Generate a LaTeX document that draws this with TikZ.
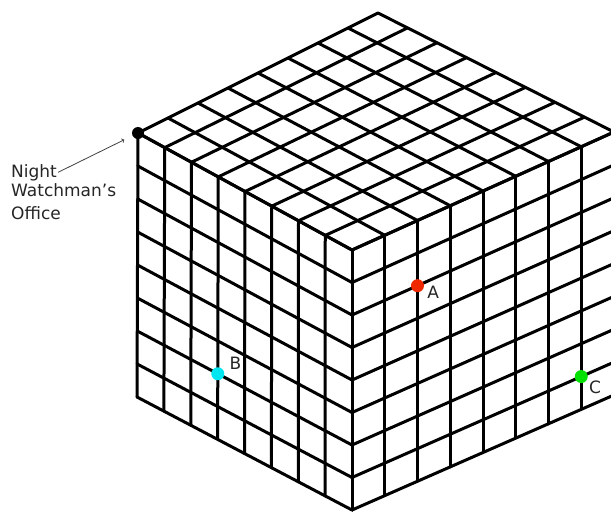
\documentclass[tikz,border=0pt]{standalone}
\usepackage{fontspec}
\setmainfont{DejaVu Sans}
\usetikzlibrary{calc,positioning}
\definecolor{dotred}{RGB}{240,40,0}
\definecolor{dotcyan}{RGB}{0,230,240}
\definecolor{dotgreen}{RGB}{0,225,0}

\begin{document}
\begin{tikzpicture}[x=1pt, y=-1pt,
  grid/.style={line width=3pt, line cap=round, line join=round},
  spot/.style={circle, inner sep=0pt, minimum size=13pt},
  tag/.style={font=\fontsize{17}{23}\selectfont, inner sep=1pt, text=black!85}]
\useasboundingbox (0,0) rectangle (611,512);
\clip (0,0) rectangle (611,512);
\coordinate (L) at (138,133);
\coordinate (T) at (378,13);
\coordinate (R) at (614,132);
\coordinate (F) at (352,250);
\coordinate (Lb) at (137,397);
\coordinate (Rb) at (614,395);
\coordinate (Fb) at (352,510);
\foreach \i in {0,...,8}{
  \draw[grid] ($(L)!\i/8!(F)$) -- ($(T)!\i/8!(R)$);
  \draw[grid] ($(L)!\i/8!(T)$) -- ($(F)!\i/8!(R)$);
  \draw[grid] ($(L)!\i/8!(F)$) -- ($(Lb)!\i/8!(Fb)$);
  \draw[grid] ($(L)!\i/8!(Lb)$) -- ($(F)!\i/8!(Fb)$);
  \draw[grid] ($(F)!\i/8!(R)$) -- ($(Fb)!\i/8!(Rb)$);
  \draw[grid] ($(F)!\i/8!(Fb)$) -- ($(R)!\i/8!(Rb)$);
}
\node[spot, fill=black, minimum size=12pt] (office) at (L) {};
\node[spot, fill=dotred] (A) at ($($(F)!2/8!(R)$)!2/8!($(Fb)!2/8!(Rb)$)$) {};
\node[spot, fill=dotcyan] (B) at ($($(L)!3/8!(F)$)!6/8!($(Lb)!3/8!(Fb)$)$) {};
\node[spot, fill=dotgreen] (C) at ($($(F)!7/8!(R)$)!7/8!($(Fb)!7/8!(Rb)$)$) {};
\node[tag, right=2pt of A, yshift=-7pt] (labA) {A};
\node[tag, right=4pt of B, yshift=10pt] (labB) {B};
\node[tag, right=0pt of C, yshift=-11pt] (labC) {C};
\node[tag, anchor=base west] (night) at (10,177) {Night};
\node[tag, align=left, below=1pt of night.south west, anchor=north west] (watch) {Watchman’s\\Office};
\draw[->, black!75, line width=0.8pt, shorten >=9pt] (night.east) -- (office);
\end{tikzpicture}
\end{document}
